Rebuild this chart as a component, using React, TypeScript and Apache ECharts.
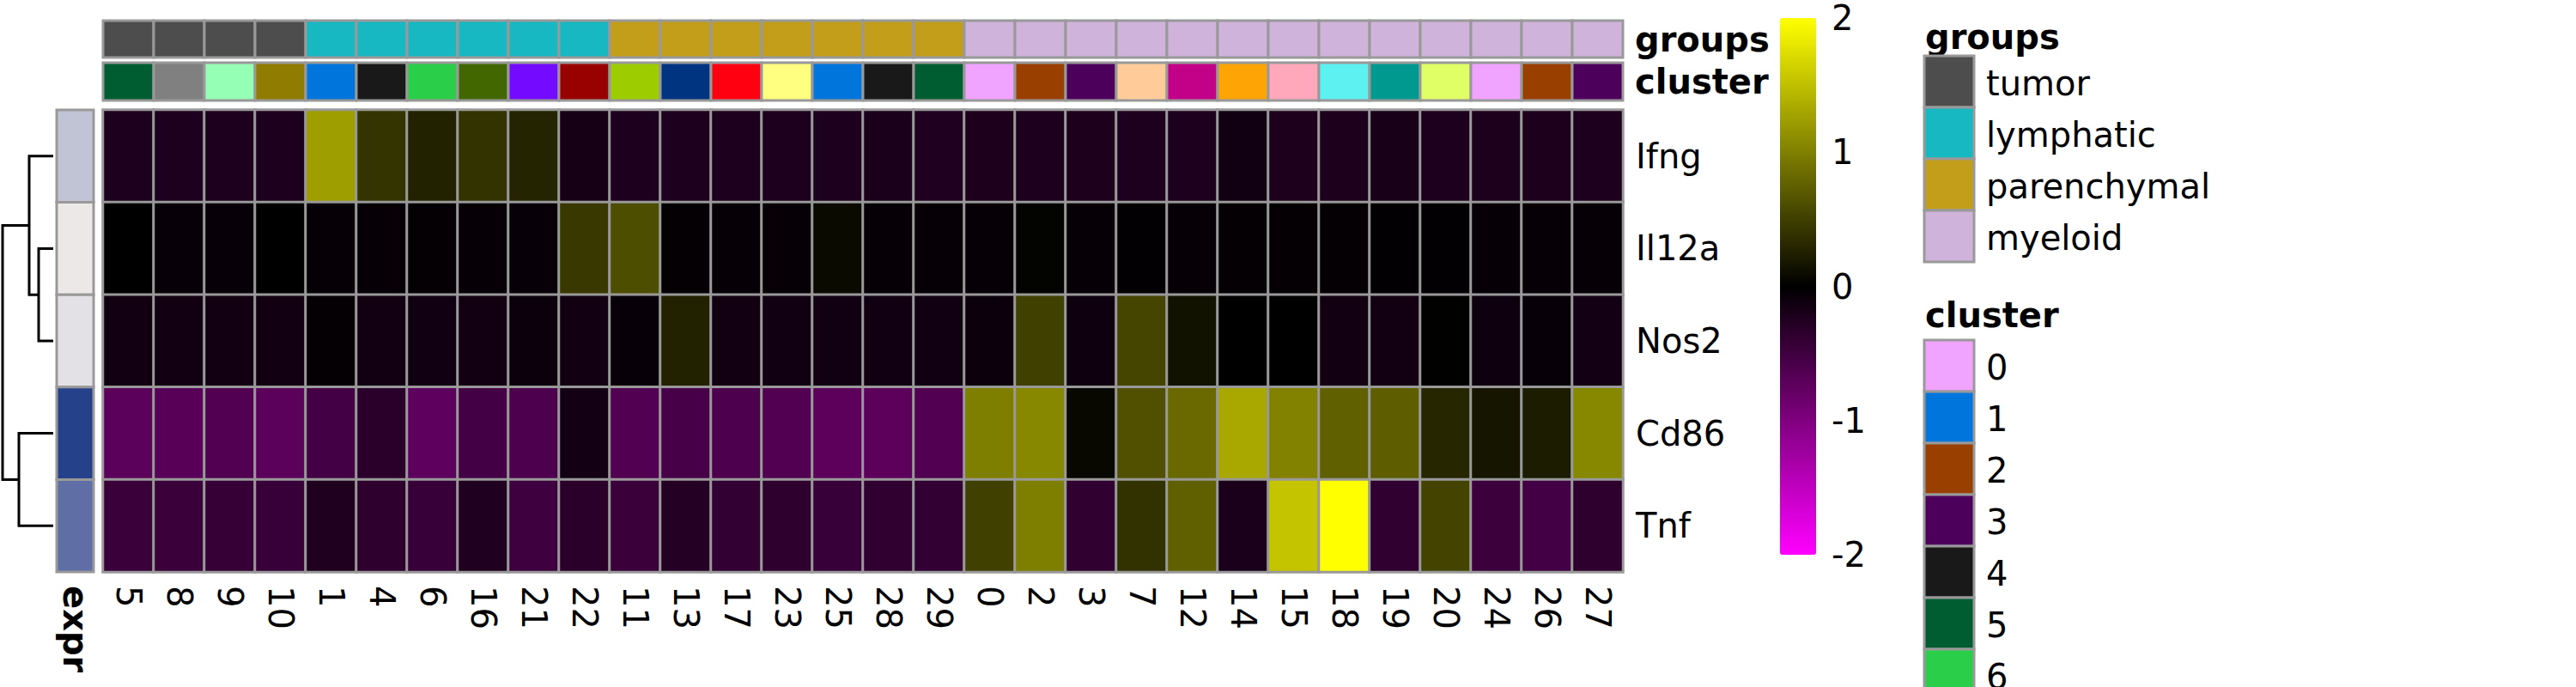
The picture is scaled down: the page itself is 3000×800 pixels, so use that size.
import React, { useEffect, useRef } from "react";
import * as echarts from "echarts";

const FONT = "DejaVu Sans";

// column (cluster) order as shown
const columns = ["5","8","9","10","1","4","6","16","21","22","11","13","17","23","25","28","29","0","2","3","7","12","14","15","18","19","20","24","26","27"];
const columnGroups = [
  "tumor","tumor","tumor","tumor",
  "lymphatic","lymphatic","lymphatic","lymphatic","lymphatic","lymphatic",
  "parenchymal","parenchymal","parenchymal","parenchymal","parenchymal","parenchymal","parenchymal",
  "myeloid","myeloid","myeloid","myeloid","myeloid","myeloid","myeloid","myeloid","myeloid","myeloid","myeloid","myeloid","myeloid",
];
const genes = ["Ifng", "Il12a", "Nos2", "Cd86", "Tnf"];

const ifng = [-0.23,-0.23,-0.23,-0.23,1.24,0.41,0.27,0.4,0.28,-0.17,-0.23,-0.23,-0.23,-0.23,-0.23,-0.2,-0.25,-0.22,-0.23,-0.22,-0.23,-0.23,-0.13,-0.22,-0.22,-0.19,-0.23,-0.22,-0.22,-0.23];
const il12a = [0,-0.06,-0.06,-0.01,-0.05,-0.05,-0.03,-0.05,-0.06,0.44,0.61,-0.03,-0.05,-0.05,0.08,-0.05,-0.05,-0.05,0.02,-0.05,-0.02,-0.05,-0.03,-0.03,-0.03,-0.02,-0.02,-0.05,-0.05,-0.05];
const nos2 = [-0.14,-0.14,-0.14,-0.14,-0.03,-0.14,-0.13,-0.14,-0.1,-0.14,-0.06,0.27,-0.14,-0.13,-0.13,-0.13,-0.13,-0.1,0.5,-0.11,0.54,0.14,0,0,-0.14,-0.14,0.01,-0.11,-0.06,-0.16];
const cd86 = [-0.71,-0.69,-0.64,-0.71,-0.53,-0.33,-0.74,-0.53,-0.6,-0.16,-0.64,-0.56,-0.6,-0.64,-0.72,-0.72,-0.64,0.99,1.06,0.06,0.63,0.82,1.32,1.02,0.75,0.74,0.3,0.17,0.22,1.07];
const tnf = [-0.45,-0.45,-0.42,-0.44,-0.24,-0.36,-0.44,-0.25,-0.49,-0.33,-0.45,-0.28,-0.39,-0.35,-0.44,-0.38,-0.39,0.5,0.99,-0.38,0.39,0.75,-0.2,1.54,2.0,-0.38,0.53,-0.47,-0.53,-0.35];
const geneValues = [ifng, il12a, nos2, cd86, tnf];

// row annotation colours (expr)
const exprColors = ["#c1c4d4", "#ece8e8", "#e3e1e5", "#24418a", "#5f6fa5"];

const groupNames = ["tumor", "lymphatic", "parenchymal", "myeloid"];
const groupColors = ["#4d4d4d", "#17b8c2", "#c29e1b", "#cfb3da"];

const clusterLevels = ["0","1","2","3","4","5","6","7","8","9","10","11","12","13","14","15","16","17","18","19","20","21","22","23","24","25","26","27","28","29"];
const clusterPalette = ["#f0a3ff","#0075dc","#993f00","#4c005c","#191919","#005c31","#2bce48","#ffcc99","#808080","#94ffb5","#8f7c00","#9dcc00","#c20088","#003380","#ffa405","#ffa8bb","#426600","#ff0010","#5ef1f2","#00998f","#e0ff66","#740aff","#990000","#ffff80"];

// dendrogram merges: [yA, yB, height, heightA, heightB] (rows at index+0.5)
const dendroMerges = [
  [1.5, 2.5, 0.288, 0, 0],
  [0.5, 2.0, 0.475, 0, 0.288],
  [3.5, 4.5, 0.678, 0, 0],
  [1.25, 4.0, 1.0, 0.475, 0.678],
];

const colorbarMin = -2;
const colorbarMax = 2;

function clusterColor(label: string) {
  return clusterPalette[clusterLevels.indexOf(label) % clusterPalette.length];
}

export default function App() {
  const ref = useRef<HTMLDivElement>(null);
  useEffect(() => {
    document.body.style.margin = "0";
    const chart = echarts.init(ref.current!, null, { renderer: "svg" });

    const heatData: number[][] = [];
    geneValues.forEach((row, r) => row.forEach((v, c) => heatData.push([c, r, v])));

    const rectItem = (fillOf: (i: number) => string) => (params: any, api: any) => {
      const c = api.coord([api.value(0), api.value(1)]);
      const s = api.size([1, 1]);
      return {
        type: "rect",
        shape: { x: c[0] - s[0] / 2, y: c[1] - s[1] / 2, width: s[0], height: s[1] },
        style: { fill: fillOf(params.dataIndex), stroke: "#999999", lineWidth: 3 },
      };
    };

    const lblBase = { color: "#000", fontFamily: FONT, fontSize: 40 };
    const hiddenAxis = { show: false };

    const H = 800;
    const legendGraphics: any[] = [];
    const legX = 2241;
    const box = 60;
    legendGraphics.push({ type: "text", x: 2242, y: 43, style: { text: "groups", font: `bold 40px '${FONT}'`, fill: "#000", textVerticalAlign: "middle" } });
    groupNames.forEach((g, i) => {
      legendGraphics.push({ type: "rect", shape: { x: legX, y: 65 + i * box, width: box - 2, height: box }, style: { fill: groupColors[i], stroke: "#999999", lineWidth: 3 } });
      legendGraphics.push({ type: "text", x: 2313, y: 65 + i * box + box / 2 + 2, style: { text: g, font: `40px '${FONT}'`, fill: "#000", textVerticalAlign: "middle" } });
    });
    legendGraphics.push({ type: "text", x: 2242, y: 367, style: { text: "cluster", font: `bold 40px '${FONT}'`, fill: "#000", textVerticalAlign: "middle" } });
    clusterLevels.forEach((k, i) => {
      const top = 396 + i * box;
      if (top >= H) return; // the rest of the legend lies below the page
      legendGraphics.push({ type: "rect", shape: { x: legX, y: top, width: box - 2, height: box }, style: { fill: clusterColor(k), stroke: "#999999", lineWidth: 3 } });
      legendGraphics.push({ type: "text", x: 2313, y: top + box / 2 + 2, style: { text: k, font: `40px '${FONT}'`, fill: "#000", textVerticalAlign: "middle" } });
    });

    chart.setOption({
      animation: false,
      backgroundColor: "#ffffff",
      grid: [
        { left: 120, top: 128, width: 1770, height: 538 },
        { left: 120, top: 24, width: 1770, height: 43 },
        { left: 120, top: 73, width: 1770, height: 44 },
        { left: 66, top: 128, width: 43, height: 538 },
        { left: 2073, top: 21, width: 42, height: 625 },
        { left: 3, top: 128, width: 59, height: 538 },
      ],
      xAxis: [
        { gridIndex: 0, type: "category", data: columns, position: "bottom", axisLine: { show: false }, axisTick: { show: false }, axisLabel: { ...lblBase, rotate: -90, margin: 16, interval: 0 } },
        { gridIndex: 1, type: "category", data: columns, ...hiddenAxis },
        { gridIndex: 2, type: "category", data: columns, ...hiddenAxis },
        { gridIndex: 3, type: "category", data: ["expr"], position: "bottom", axisLine: { show: false }, axisTick: { show: false }, axisLabel: { ...lblBase, fontWeight: "bold", rotate: -90, margin: 16 } },
        { gridIndex: 4, type: "value", ...hiddenAxis },
        { gridIndex: 5, type: "value", min: 0, max: 1, inverse: true, ...hiddenAxis },
      ],
      yAxis: [
        { gridIndex: 0, type: "category", data: genes, inverse: true, position: "right", axisLine: { show: false }, axisTick: { show: false }, axisLabel: { ...lblBase, margin: 15 } },
        { gridIndex: 1, type: "category", data: ["groups"], position: "right", axisLine: { show: false }, axisTick: { show: false }, axisLabel: { ...lblBase, fontWeight: "bold", margin: 14 } },
        { gridIndex: 2, type: "category", data: ["cluster"], position: "right", axisLine: { show: false }, axisTick: { show: false }, axisLabel: { ...lblBase, fontWeight: "bold", margin: 14 } },
        { gridIndex: 3, type: "category", data: genes, inverse: true, ...hiddenAxis },
        { gridIndex: 4, type: "value", min: colorbarMin, max: colorbarMax, interval: 1, position: "right", axisLine: { show: false }, axisTick: { show: false }, splitLine: { show: false }, axisLabel: { ...lblBase, margin: 18 } },
        { gridIndex: 5, type: "value", min: 0, max: 5, inverse: true, ...hiddenAxis },
      ],
      visualMap: {
        type: "continuous",
        seriesIndex: 0,
        min: colorbarMin,
        max: colorbarMax,
        calculable: false,
        hoverLink: false,
        left: 2073,
        top: 21,
        padding: 0,
        itemWidth: 42,
        itemHeight: 625,
        inRange: { color: ["#ff00ff", "#000000", "#ffff00"] },
      },
      series: [
        {
          type: "heatmap",
          xAxisIndex: 0,
          yAxisIndex: 0,
          data: heatData,
          itemStyle: { borderColor: "#999999", borderWidth: 3 },
          emphasis: { disabled: true },
        },
        {
          type: "custom",
          xAxisIndex: 1,
          yAxisIndex: 1,
          data: columnGroups.map((g, i) => [i, 0]),
          renderItem: rectItem((i) => groupColors[groupNames.indexOf(columnGroups[i])]),
        },
        {
          type: "custom",
          xAxisIndex: 2,
          yAxisIndex: 2,
          data: columns.map((c, i) => [i, 0]),
          renderItem: rectItem((i) => clusterColor(columns[i])),
        },
        {
          type: "custom",
          xAxisIndex: 3,
          yAxisIndex: 3,
          data: genes.map((g, i) => [0, i]),
          renderItem: rectItem((i) => exprColors[i]),
        },
        {
          type: "custom",
          xAxisIndex: 5,
          yAxisIndex: 5,
          clip: false,
          data: dendroMerges,
          renderItem: (params: any, api: any) => {
            const yA = api.value(0), yB = api.value(1), h = api.value(2), hA = api.value(3), hB = api.value(4);
            const pts = [api.coord([hA, yA]), api.coord([h, yA]), api.coord([h, yB]), api.coord([hB, yB])];
            return { type: "polyline", shape: { points: pts }, style: { stroke: "#000", lineWidth: 3, fill: null } };
          },
        },
        { type: "scatter", xAxisIndex: 4, yAxisIndex: 4, data: [] },
      ],
      graphic: legendGraphics,
    });
    return () => chart.dispose();
  }, []);
  return <div ref={ref} style={{ width: 3000, height: 800 }} />;
}
